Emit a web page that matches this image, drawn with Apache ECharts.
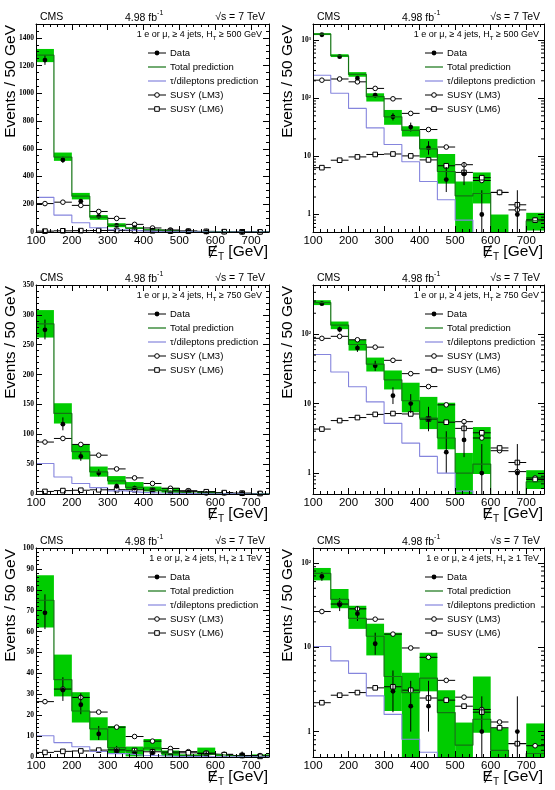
<!DOCTYPE html>
<html>
<head>
<meta charset="utf-8">
<script src="https://cdn.jsdelivr.net/npm/echarts@6/dist/echarts.min.js"></script>
<style>
  html, body { margin: 0; padding: 0; background: #fff; }
  #main { width: 555px; height: 790px; }
</style>
</head>
<body>
<div id="main"></div>
<script>
// bins of MET, 50 GeV wide
const binLow = [100, 150, 200, 250, 300, 350, 400, 450, 500, 550, 600, 650, 700];
const binWidth = 50;
const xTickLabels = [100, 200, 300, 400, 500, 600, 700];
const logMinorTicks = [0.6, 0.7, 0.8, 0.9, 2, 3, 4, 5, 6, 7, 8, 9, 20, 30, 40, 50, 60, 70, 80, 90,
  200, 300, 400, 500, 600, 700, 800, 900, 2000];

// HT >= 500 GeV
const data500 = [1240, 520, 222, 113, 48, 32, 14, 4, 5, 1, null, 1, null];
const total500 = [1275, 540, 258, 107, 48, 28, 13.5, 5.5, 2.1, 2.3, 0.35, 0, 0.78];
const lo500 = [1225, 513, 235, 88, 35, 22, 9.5, 3.4, 0.3, 1.55, 0.01, 0, 0.53];
const hi500 = [1320, 573, 282, 122, 63, 33, 20, 11, 3.7, 5.3, 1.0, 0, 1.07];
const tau500 = [250, 122, 67, 31, 16, 8.1, 3.7, 1.8, 0.8, 0.3, 0.2, 0.1, 0.1];
const lm3_500 = [205, 215, 192, 148, 98, 55, 29, 14.5, 7.2, 3.85, 2.4, 1.2, 0.8];
const lm6_500 = [6.4, 8.6, 9.8, 10.8, 11, 10.2, 8.7, 6.9, 5.3, 4.3, 2.4, 1.47, 0.8];

// HT >= 750 GeV
const data750 = [275, 117, 63, 35, 13, 10, 6, 2, 3, 1, null, 1, null];
const total750 = [285, 135, 71, 37, 22, 11, 6.2, 3.2, 1.0, 1.35, 0, 0, 0.75];
const lo750 = [262, 118, 58, 29, 16, 7.5, 4.3, 2.2, 0.3, 0.97, 0, 0, 0.59];
const hi750 = [308, 152, 83, 46, 30, 20, 12.5, 10.3, 1.95, 4.6, 0, 0, 1.1];
const tau750 = [51, 28.5, 17.5, 10.6, 5.2, 2.7, 1.74, 1.0, 0.55, 0.3, 0.2, 0.1, 0.1];
const lm3_750 = [87, 93, 83, 65, 42, 27, 17.6, 9.6, 5.5, 3.2, 2.1, 1.05, 0.85];
const lm6_750 = [4.3, 5.7, 6.3, 7.0, 7.2, 7.1, 6.0, 5.4, 4.4, 3.8, 2.3, 1.42, 0.81];

// HT >= 1 TeV
const data1000 = [69, 32, 25, 11, 3, 2, 2, null, null, 1, null, 1, null];
const total1000 = [75, 37, 22, 13.5, 4.5, 2.9, 4.3, 1.68, 0.69, 1.4, 0.6, 0.1, 0.55];
const lo1000 = [62, 29, 16.5, 8, 1.75, 0.3, 3.0, 0.4, 0.4, 0.97, 0.45, 0, 0.3];
const hi1000 = [87, 49, 31, 19, 14.8, 5.0, 8.6, 3.1, 1.28, 4.5, 1.1, 0, 1.25];
const tau1000 = [10.2, 6.9, 4.9, 2.65, 1.6, 0.81, 0.57, 0.3, 0.2, 0.1, 0.1, 0.1, 0.1];
const lm3_1000 = [26.5, 32.5, 28.5, 21.5, 14.3, 9.8, 7.6, 4.05, 2.56, 1.83, 1.3, 0.72, 0.68];
const lm6_1000 = [2.2, 2.7, 2.9, 3.3, 3.4, 3.1, 2.5, 2.36, 2.0, 1.7, 1.11, 0.72, 0.3];

const cuts = [
  { label: '500 GeV', data: data500, total: total500, lo: lo500, hi: hi500, tau: tau500, lm3: lm3_500, lm6: lm6_500,
    linMax: 1500, linStep: 200, linMinor: 4, logMax: 1900 },
  { label: '750 GeV', data: data750, total: total750, lo: lo750, hi: hi750, tau: tau750, lm3: lm3_750, lm6: lm6_750,
    linMax: 350, linStep: 50, linMinor: 5, logMax: 510 },
  { label: '1 TeV', data: data1000, total: total1000, lo: lo1000, hi: hi1000, tau: tau1000, lm3: lm3_1000, lm6: lm6_1000,
    linMax: 100, linStep: 10, linMinor: 5, logMax: 150 }
];

const colLeft = [36, 313];
const colWidth = [233, 231];
const rowTop = [24, 285, 548];
const rowHeight = [208, 209, 209];

const sans = '"Liberation Sans", Arial, Helvetica, sans-serif';
const serif = '"Liberation Serif", "Times New Roman", serif';
const bandColor = '#00cc00';
const totalColor = '#137313';
const tauColor = '#8585dd';
const logMin = 0.5;

const chart = echarts.init(document.getElementById('main'));

function clip(r, cs) {
  return echarts.graphic.clipRectByRect(r, { x: cs.x, y: cs.y, width: cs.width, height: cs.height });
}

function stepData(vals, floor) {
  const pts = binLow.map((x, j) => [x, Math.max(vals[j], floor)]);
  pts.push([binLow[binLow.length - 1] + binWidth, Math.max(vals[vals.length - 1], floor)]);
  return pts;
}

function logLabel(v) {
  const e = Math.round(Math.log10(v));
  if (Math.abs(v / Math.pow(10, e) - 1) > 1e-6) return '';
  if (e === 0) return '1';
  if (e === 1) return '10';
  return '10' + ({ 2: '²', 3: '³' })[e];
}

function markerSeries(p, vals, shape) {
  return {
    type: 'custom', xAxisIndex: 2 * p, yAxisIndex: 2 * p, silent: true,
    data: binLow.map((x, j) => [x, vals[j]]),
    renderItem: (params, api) => {
      const cs = params.coordSys;
      const a = api.coord([api.value(0), api.value(1)]);
      const b = api.coord([api.value(0) + binWidth, api.value(1)]);
      if (!(a[1] <= cs.y + cs.height + 0.5) || a[1] < cs.y) return;
      const cx = (a[0] + b[0]) / 2;
      const mark = shape === 'circle'
        ? { type: 'circle', shape: { cx: cx, cy: a[1], r: 2.3 }, style: { fill: '#fff', stroke: '#000', lineWidth: 1 } }
        : { type: 'rect', shape: { x: cx - 2.3, y: a[1] - 2.3, width: 4.6, height: 4.6 }, style: { fill: '#fff', stroke: '#000', lineWidth: 1 } };
      return { type: 'group', children: [
        { type: 'line', shape: { x1: a[0], y1: a[1], x2: b[0], y2: a[1] }, style: { stroke: '#000', lineWidth: 1 } },
        mark
      ] };
    }
  };
}

const grids = [], xAxes = [], yAxes = [], series = [], graphics = [];

cuts.forEach((cut, row) => {
  [false, true].forEach((isLog, col) => {
    const p = row * 2 + col;
    const g = { left: colLeft[col], top: rowTop[row], width: colWidth[col], height: rowHeight[row] };
    grids.push(g);
    const floor = isLog ? 0.01 : 0;

    const tick = { inside: true, length: 6, lineStyle: { color: '#000', width: 1 } };
    const line = { show: true, onZero: false, lineStyle: { color: '#000', width: 1 } };
    const xBase = {
      gridIndex: p, type: 'value', min: 100, max: 750, interval: 100, z: 5,
      axisLine: line, axisTick: tick, splitLine: { show: false },
      minorTick: { show: true, splitNumber: 5, length: 3, lineStyle: { color: '#000' } }
    };
    xAxes.push(Object.assign({}, xBase, {
      position: 'bottom',
      axisLabel: { margin: 3, fontSize: 11.5, color: '#000', fontFamily: sans,
        formatter: v => xTickLabels.includes(v) ? String(v) : '' }
    }));
    xAxes.push(Object.assign({}, xBase, { position: 'top', axisLabel: { show: false } }));

    let yBase;
    if (isLog) {
      yBase = { gridIndex: p, type: 'log', logBase: 10, min: logMin, max: cut.logMax, z: 5,
        axisLine: line, axisTick: tick, splitLine: { show: false } };
    } else {
      yBase = { gridIndex: p, type: 'value', min: 0, max: cut.linMax, interval: cut.linStep, z: 5,
        axisLine: line, axisTick: tick, splitLine: { show: false },
        minorTick: { show: true, splitNumber: cut.linMinor, length: 3, lineStyle: { color: '#000' } } };
    }
    yAxes.push(Object.assign({}, yBase, {
      position: 'left',
      axisLabel: { margin: 2, fontSize: 7.5, fontWeight: 'bold', color: '#000', fontFamily: serif,
        formatter: isLog ? logLabel : (v => (v % cut.linStep === 0 ? String(v) : '')) }
    }));
    yAxes.push(Object.assign({}, yBase, { position: 'right', axisLabel: { show: false } }));

    // uncertainty band
    const bandData = [];
    binLow.forEach((x, j) => {
      if (cut.hi[j] > cut.lo[j]) bandData.push([x, Math.max(cut.lo[j], floor), cut.hi[j]]);
    });
    series.push({
      type: 'custom', xAxisIndex: 2 * p, yAxisIndex: 2 * p, silent: true, data: bandData,
      encode: { x: 0, y: [1, 2] },
      renderItem: (params, api) => {
        const a = api.coord([api.value(0), api.value(2)]);
        const b = api.coord([api.value(0) + binWidth, api.value(1)]);
        const r = clip({ x: a[0], y: a[1], width: b[0] - a[0], height: b[1] - a[1] }, params.coordSys);
        return r && { type: 'rect', shape: r, style: { fill: bandColor } };
      }
    });
    // total prediction and tau/dilepton histograms
    series.push({
      type: 'line', xAxisIndex: 2 * p, yAxisIndex: 2 * p, step: 'end', symbol: 'none', silent: true,
      data: stepData(cut.total, floor), lineStyle: { color: totalColor, width: 1.2 }
    });
    series.push({
      type: 'line', xAxisIndex: 2 * p, yAxisIndex: 2 * p, step: 'end', symbol: 'none', silent: true,
      data: stepData(cut.tau, floor), lineStyle: { color: tauColor, width: 1.1 }
    });
    series.push(markerSeries(p, cut.lm3, 'circle'));
    series.push(markerSeries(p, cut.lm6, 'square'));
    // data with Poisson error bars
    const pts = [];
    binLow.forEach((x, j) => { if (cut.data[j] != null) pts.push([x, cut.data[j]]); });
    series.push({
      type: 'custom', xAxisIndex: 2 * p, yAxisIndex: 2 * p, silent: true, data: pts,
      renderItem: (params, api) => {
        const cs = params.coordSys;
        const x = api.value(0) + binWidth / 2, n = api.value(1);
        const c = api.coord([x, n]);
        const up = api.coord([x, n + 0.5 + Math.sqrt(n + 0.25)]);
        const dn = api.coord([x, Math.max(n + 0.5 - Math.sqrt(n + 0.25), floor)]);
        return { type: 'group', children: [
          { type: 'line', shape: { x1: c[0], y1: Math.max(up[1], cs.y), x2: c[0], y2: Math.min(dn[1], cs.y + cs.height) },
            style: { stroke: '#000', lineWidth: 1 } },
          { type: 'circle', shape: { cx: c[0], cy: c[1], r: 2.4 }, style: { fill: '#000' } }
        ] };
      }
    });
    // minor ticks on log axes
    if (isLog) {
      series.push({
        type: 'custom', xAxisIndex: 2 * p, yAxisIndex: 2 * p, silent: true, z: 6,
        data: logMinorTicks.filter(v => v > logMin && v < cut.logMax).map(v => [100, v]),
        renderItem: (params, api) => {
          const cs = params.coordSys;
          const y = api.coord([100, api.value(1)])[1];
          const st = { stroke: '#000', lineWidth: 1 };
          return { type: 'group', children: [
            { type: 'line', shape: { x1: cs.x, y1: y, x2: cs.x + 3, y2: y }, style: st },
            { type: 'line', shape: { x1: cs.x + cs.width - 3, y1: y, x2: cs.x + cs.width, y2: y }, style: st }
          ] };
        }
      });
    }

    // texts
    const gx = g.left, gy = g.top, gr = g.left + g.width, gb = g.top + g.height;
    const txt = (x, y, text, size, align, extra) => ({
      type: 'text', x: x, y: y, z: 10, silent: true,
      style: Object.assign({ text: text, fontSize: size, fontFamily: sans, fill: '#000',
        align: align, textAlign: align, verticalAlign: 'middle', textVerticalAlign: 'middle' }, extra || {})
    });
    graphics.push(txt(gx + 4, gy - 7, 'CMS', 10.5, 'left'));
    graphics.push(txt(gx + 89, gy - 7, '{m|4.98 fb}{s|-1}', 10.5, 'left', {
      rich: { m: { fontSize: 10.5, fontFamily: sans, fill: '#000', lineHeight: 14, verticalAlign: 'bottom' },
              s: { fontSize: 7, fontFamily: sans, fill: '#000', lineHeight: 8, verticalAlign: 'top' } } }));
    graphics.push(txt(gr - 4, gy - 7, '√s = 7 TeV', 10.5, 'right'));
    graphics.push(txt(gx + 226, gy + 12, '{m|1 e or μ, ≥ 4 jets, H}{s|T}{m| ≥ ' + cut.label + '}', 9, 'right', {
      rich: { m: { fontSize: 9, fontFamily: sans, fill: '#000', lineHeight: 11, verticalAlign: 'top' },
              s: { fontSize: 6, fontFamily: sans, fill: '#000', lineHeight: 6, verticalAlign: 'bottom' } } }));
    graphics.push(Object.assign(txt(gx - 25, gy + 1, 'Events / 50 GeV', 15.5, 'right'), { rotation: Math.PI / 2 }));
    graphics.push(txt(gr - 1, gb + 21, '{m|Ɇ}{s|T}{m| [GeV]}', 15.5, 'right', {
      rich: { m: { fontSize: 15.5, fontFamily: sans, fill: '#000', lineHeight: 18, verticalAlign: 'top' },
              s: { fontSize: 10, fontFamily: sans, fill: '#000', lineHeight: 8, verticalAlign: 'bottom' } } }));

    // legend
    const rows = [29, 43, 57, 71, 85];
    const names = ['Data', 'Total prediction', 'τ/dileptons prediction', 'SUSY (LM3)', 'SUSY (LM6)'];
    const lx1 = gx + 112, lx2 = gx + 130, lcx = gx + 121;
    names.forEach((name, k) => {
      const y = gy + rows[k];
      const stroke = k === 1 ? totalColor : k === 2 ? tauColor : '#000';
      graphics.push({ type: 'line', z: 10, silent: true, shape: { x1: lx1, y1: y, x2: lx2, y2: y },
        style: { stroke: stroke, lineWidth: k === 1 || k === 2 ? 1.2 : 1 } });
      if (k === 0) graphics.push({ type: 'circle', z: 11, silent: true, shape: { cx: lcx, cy: y, r: 2.4 }, style: { fill: '#000' } });
      if (k === 3) graphics.push({ type: 'circle', z: 11, silent: true, shape: { cx: lcx, cy: y, r: 2.3 }, style: { fill: '#fff', stroke: '#000', lineWidth: 1 } });
      if (k === 4) graphics.push({ type: 'rect', z: 11, silent: true, shape: { x: lcx - 2.3, y: y - 2.3, width: 4.6, height: 4.6 }, style: { fill: '#fff', stroke: '#000', lineWidth: 1 } });
      graphics.push(txt(gx + 134, y, name, 9.5, 'left'));
    });
  });
});

chart.setOption({
  animation: false,
  backgroundColor: '#fff',
  grid: grids,
  xAxis: xAxes,
  yAxis: yAxes,
  series: series,
  graphic: { elements: graphics }
});
</script>
</body>
</html>
